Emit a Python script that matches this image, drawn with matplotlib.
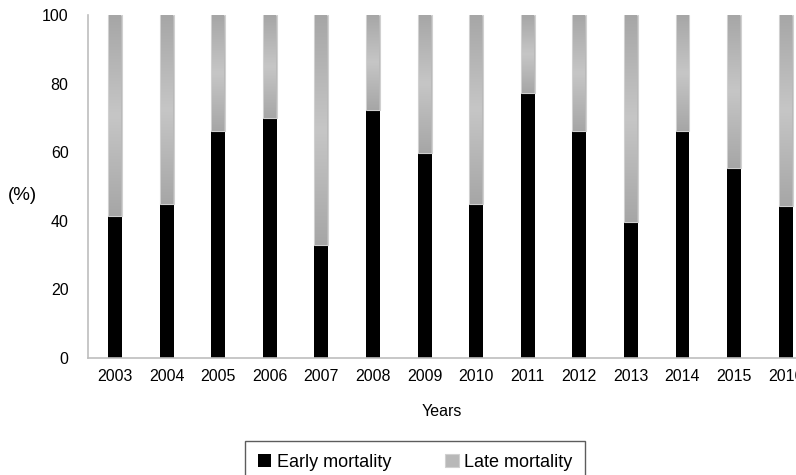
import matplotlib.pyplot as plt
import numpy as np
from matplotlib.colors import LinearSegmentedColormap

years = ['2003', '2004', '2005', '2006', '2007', '2008', '2009',
         '2010', '2011', '2012', '2013', '2014', '2015', '2016']
early = [41.5, 45, 66.3, 70, 33, 72.2, 59.7, 44.8, 77.3, 66.3, 39.6, 66.3, 55.3, 44.3]
late = [100 - e for e in early]

plt.rcParams['font.family'] = ['Liberation Sans', 'DejaVu Sans']

fig = plt.figure(figsize=(7.96, 4.75), dpi=100)
ax = fig.add_axes([88 / 796, 117 / 475, 708 / 796, 343 / 475])

x = np.arange(len(years))
w = 0.27
b1 = ax.bar(x, early, width=w, color='black', label='Early mortality', zorder=2)
b2 = ax.bar(x, late, width=w, bottom=early, color='#b8b8b8', edgecolor='#d0d0d0',
            linewidth=0.8, label='Late mortality', zorder=2)

# gradient: darker at the ends, lighter in the middle
cmap = LinearSegmentedColormap.from_list('lm', ['#c6c6c6', '#a6a6a6'])
grad = np.abs(np.linspace(-1, 1, 256)).reshape(-1, 1)
for rect in b2:
    x0, y0 = rect.get_x(), rect.get_y()
    im = ax.imshow(grad, cmap=cmap, vmin=0, vmax=1, aspect='auto',
                   extent=(x0 + 0.02, x0 + rect.get_width() - 0.02, y0, y0 + rect.get_height()),
                   zorder=3)
    im.set_clip_path(rect)

ax.set_xlim(-0.523, 13.2)
ax.set_ylim(0, 100)
ax.set_yticks([0, 20, 40, 60, 80, 100])
ax.set_xticks(x)
ax.set_xticklabels(years)
ax.tick_params(length=0, labelsize=11.5)
ax.tick_params(axis='x', pad=8)
ax.tick_params(axis='y', pad=14)
for s in ['top', 'right']:
    ax.spines[s].set_visible(False)
for s in ['left', 'bottom']:
    ax.spines[s].set_color('#bdbdbd')
    ax.spines[s].set_linewidth(1.2)

ax.set_xlabel('Years', fontsize=11.5, labelpad=14)
fig.text(8 / 796, 1 - 195 / 475, '(%)', fontsize=13.5, va='center', ha='left')

leg = fig.legend(handles=[b1, b2], loc='upper left',
                 bbox_to_anchor=(245 / 796, 1 - 441 / 475), ncol=2,
                 frameon=True, fancybox=False, fontsize=13,
                 handlelength=0.75, handleheight=0.75, handletextpad=0.3,
                 columnspacing=3.0, borderpad=0.7, borderaxespad=0)
leg.get_frame().set_edgecolor('#333333')
leg.get_frame().set_linewidth(1.0)

fig.savefig('out.png', dpi=100)
